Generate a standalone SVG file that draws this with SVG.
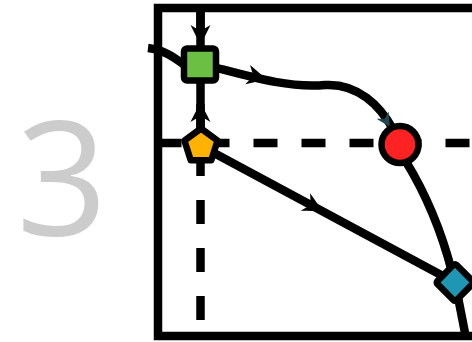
<svg xmlns="http://www.w3.org/2000/svg" width="472" height="342" viewBox="0 0 472 342">
<style>
.frame{fill:none;stroke:#000;stroke-width:8.5}
.dash{fill:none;stroke:#000;stroke-width:8.5;stroke-dasharray:24 24}
.edge{fill:none;stroke:#000;stroke-width:8.5}
.node{stroke:#000;stroke-width:6.5;stroke-linejoin:round}
.ah{fill:#000}
.big{font-family:"Open Sans","Liberation Sans",sans-serif;font-size:160px;fill:#cccccc}
</style>
<defs>
<path id="arrow" d="M0,0 C-6,-3 -13,-6.5 -20,-10 L-14,0 L-20,10 C-13,6.5 -6,3 0,0 Z"/>
</defs>
<rect width="472" height="342" fill="#fff"/>
<text class="big" x="62" y="235" text-anchor="middle">3</text>
<rect class="frame" x="158" y="8" width="340" height="328"/>
<g id="guides">
<line class="dash" x1="157.5" y1="143" x2="472" y2="143"/>
<line class="dash" x1="200.5" y1="8" x2="200.5" y2="336"/>
</g>
<g id="connectors">
<path class="edge" d="M200.5,8 V46"/>
<use class="ah" href="#arrow" transform="translate(200.5,45) rotate(90)"/>
<path class="edge" d="M200.5,83 V130"/>
<use class="ah" href="#arrow" transform="translate(200.5,102) rotate(-90)"/>
<path class="edge" d="M148,48 C165,50 175,58 186,66"/>
<path class="edge" d="M217,68 C255,78 290,88 325,85 C358,83 380,106 393,129"/>
<use class="ah" href="#arrow" transform="translate(267,79.5) rotate(14)"/>
<use href="#arrow" fill="#24474f" transform="translate(390,127) rotate(58) scale(0.7)"/>
<path class="edge" d="M201,146 L455,282.5"/>
<use class="ah" href="#arrow" transform="translate(323,211.5) rotate(28.2)"/>
<path class="edge" d="M405,160 Q436,210 452,272"/>
<path class="edge" d="M457,292 L466,338"/>
</g>
<g id="node-green">
<rect class="node" x="184" y="48.5" width="32" height="32" rx="3" fill="#6bbf43"/>
</g>
<g id="node-yellow">
<polygon class="node" points="201,128.5 217.6,140.6 211.3,160.2 190.7,160.2 184.4,140.6" fill="#ffb300"/>
</g>
<g id="node-red">
<circle class="node" cx="400" cy="144.5" r="18.5" fill="#ff2222"/>
</g>
<g id="node-blue">
<rect class="node" x="441.5" y="269" width="27" height="27" rx="2" fill="#1e96b4" transform="rotate(45 455 282.5)"/>
</g>
</svg>
